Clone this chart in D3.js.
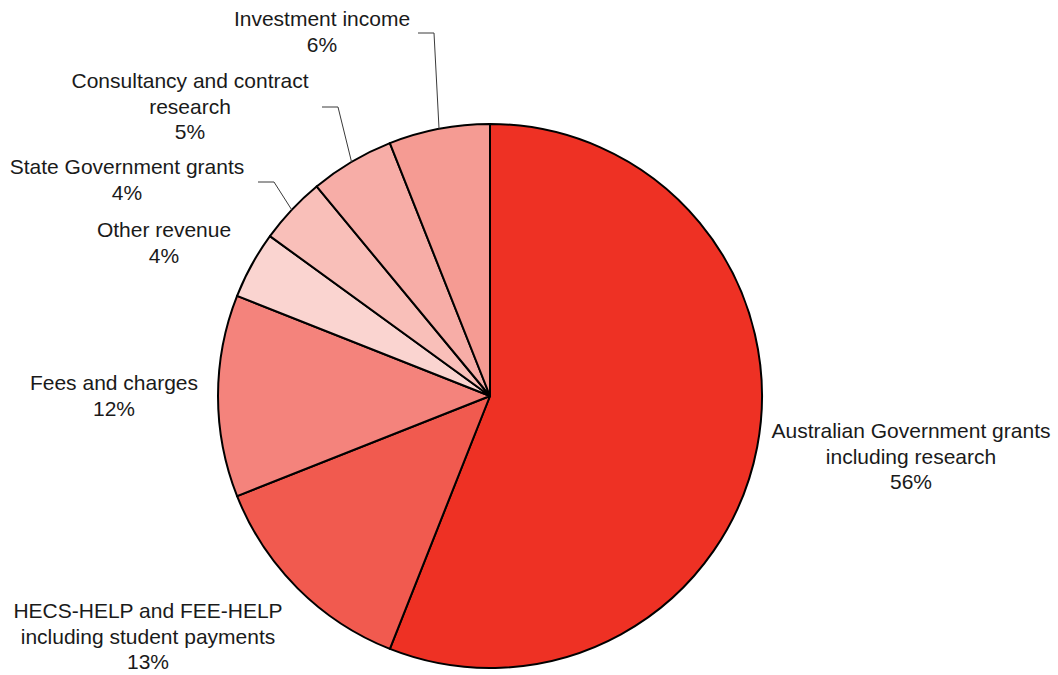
<!DOCTYPE html>
<html>
<head>
<meta charset="utf-8">
<script src="https://d3js.org/d3.v7.min.js"></script>
<style>
body { margin: 0; background: #fff; }
svg text { font-family: "Liberation Sans", Arial, sans-serif; font-size: 21px; fill: #1a1a1a; }
</style>
</head>
<body>
<svg id="chart" width="1058" height="675"></svg>
<script>
// revenue shares, clockwise from 12 o'clock
var names = ["Australian Government grants including research", "HECS-HELP and FEE-HELP including student payments",
  "Fees and charges", "Other revenue", "State Government grants", "Consultancy and contract research", "Investment income"];
var values = [56, 13, 12, 4, 4, 5, 6];
var colours = ["#EE3124", "#F15A4F", "#F4837C", "#FAD4D0", "#F9BFB9", "#F7ADA7", "#F59B93"];

// label text lines
var labelLines = [
  ["Australian Government grants", "including research"],
  ["HECS-HELP and FEE-HELP", "including student payments"],
  ["Fees and charges"],
  ["Other revenue"],
  ["State Government grants"],
  ["Consultancy and contract", "research"],
  ["Investment income"]
];

// label placement (centre x, first line baseline y) and leader elbows
var labelAt = [[911, 438], [148, 618], [114, 390], [164, 237], [127, 174], [190, 88], [322, 26]];
var leaders = {4: [[274, 182], [258, 182]], 5: [[338, 107], [322, 107]], 6: [[434, 33], [418, 33]]};

var cx = 490, cy = 396, r = 272;
var svg = d3.select("#chart");
var g = svg.append("g").attr("transform", "translate(" + cx + "," + cy + ")");

var pie = d3.pie().sort(null).value(function(d) { return d; });
var arcs = pie(values);
var arc = d3.arc().innerRadius(0).outerRadius(r);
var edge = d3.arc().innerRadius(r).outerRadius(r);

g.selectAll("path.slice")
  .data(arcs)
  .enter().append("path")
  .attr("class", "slice")
  .attr("d", arc)
  .attr("fill", function(d, i) { return colours[i]; })
  .attr("stroke", "#000")
  .attr("stroke-width", 2)
  .attr("stroke-linejoin", "round");

// leader lines
arcs.forEach(function(d, i) {
  if (!leaders[i]) return;
  var p = edge.centroid(d);
  var pts = [[p[0] + cx, p[1] + cy]].concat(leaders[i]);
  svg.append("path")
    .attr("d", d3.line()(pts))
    .attr("fill", "none")
    .attr("stroke", "#3a3a3a")
    .attr("stroke-width", 1);
});

// labels
labelLines.forEach(function(lines, i) {
  var t = svg.append("text")
    .attr("text-anchor", "middle")
    .attr("x", labelAt[i][0])
    .attr("y", labelAt[i][1]);
  lines.concat([values[i] + "%"]).forEach(function(s, k) {
    t.append("tspan")
      .attr("x", labelAt[i][0])
      .attr("dy", k === 0 ? 0 : 25.5)
      .text(s);
  });
});
</script>
</body>
</html>
